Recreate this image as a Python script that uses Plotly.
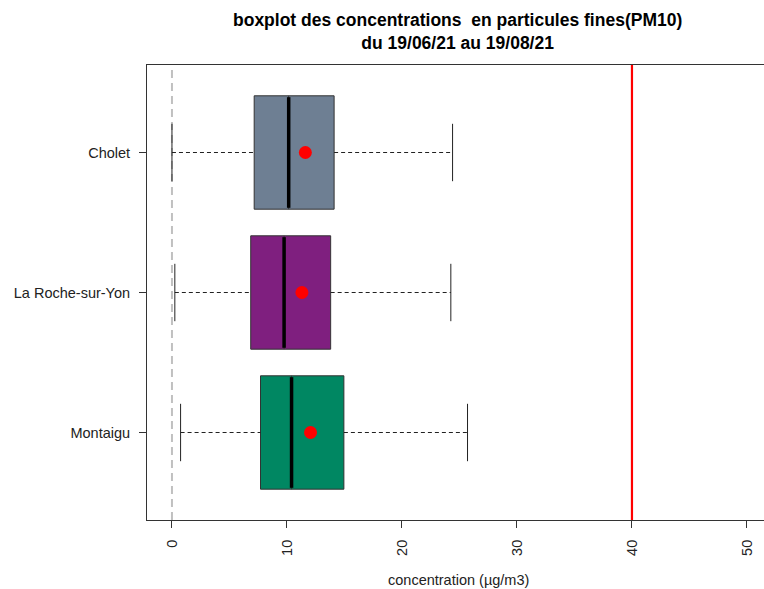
import plotly.graph_objects as go

stations = ["Cholet", "La Roche-sur-Yon", "Montaigu"]
positions = [3, 2, 1]
q1 = [7.15, 6.85, 7.7]
median = [10.15, 9.75, 10.4]
q3 = [14.1, 13.8, 14.95]
lower = [0.0, 0.25, 0.75]
upper = [24.4, 24.25, 25.7]
mean = [11.6, 11.3, 12.05]
colors = ["#6E7F93", "#7F1F7F", "#008762"]
x_ticks = [0, 10, 20, 30, 40, 50]
limit_value = 40

BOXW = 0.81
CAPW = 0.41
FONT = "Liberation Sans, Arial"

fig = go.Figure()

# dashed whiskers
for i in range(3):
    p = positions[i]
    fig.add_trace(go.Scatter(
        x=[lower[i], q1[i], None, q3[i], upper[i]],
        y=[p, p, None, p, p], mode="lines",
        line=dict(color="#222222", width=1, dash="4px,3px"),
        showlegend=False, hoverinfo="skip"))
    fig.add_trace(go.Scatter(
        x=[lower[i], lower[i], None, upper[i], upper[i]],
        y=[p - CAPW / 2, p + CAPW / 2, None, p - CAPW / 2, p + CAPW / 2],
        mode="lines", line=dict(color="#222222", width=1),
        showlegend=False, hoverinfo="skip"))

# boxes
for i in range(3):
    fig.add_trace(go.Box(
        y=[positions[i]], q1=[q1[i]], median=[median[i]], q3=[q3[i]],
        lowerfence=[q1[i]], upperfence=[q3[i]],
        orientation="h", width=BOXW, fillcolor=colors[i],
        line=dict(color="#333333", width=1), whiskerwidth=0,
        showlegend=False, hoverinfo="skip"))

# thick medians
for i in range(3):
    p = positions[i]
    fig.add_trace(go.Scatter(
        x=[median[i], median[i]], y=[p - BOXW / 2 + 0.01, p + BOXW / 2 - 0.01],
        mode="lines", line=dict(color="black", width=3.5),
        showlegend=False, hoverinfo="skip"))

# means
fig.add_trace(go.Scatter(
    x=mean, y=positions, mode="markers",
    marker=dict(color="red", size=13, line=dict(width=0)),
    showlegend=False, hoverinfo="skip"))

# reference lines
fig.add_shape(type="line", xref="x", yref="paper", x0=0, x1=0, y0=0, y1=0.995,
              line=dict(color="#C0C0C0", width=2, dash="8px,5px"), layer="below")
fig.add_shape(type="line", xref="x", yref="paper", x0=limit_value, x1=limit_value,
              y0=0, y1=1, line=dict(color="red", width=2.2))

fig.add_annotation(
    text="<b>boxplot des concentrations  en particules fines(PM10)</b><br><b>du 19/06/21 au 19/08/21</b>",
    xref="paper", yref="paper", x=(457.5 - 147) / 617.0, y=(520 - 31) / 455.0,
    yanchor="middle", showarrow=False,
    font=dict(family=FONT, size=17.5, color="black"))

fig.add_annotation(
    text="concentration (µg/m3)", xref="paper", yref="paper",
    x=(459 - 147) / 617.0, y=-(580 - 520) / 455.0, yanchor="middle",
    showarrow=False, font=dict(family=FONT, size=14.5, color="#222222"))

fig.update_layout(
    width=764, height=589,
    margin=dict(l=147, r=0, t=65, b=69),
    plot_bgcolor="white", paper_bgcolor="white",
    font=dict(family=FONT, size=14.5, color="#222222"),
    xaxis=dict(range=[-2.17, 51.48], tickvals=x_ticks, tickangle=-90,
               showgrid=False, zeroline=False, showline=True, mirror=True,
               linecolor="#333333", linewidth=1, ticks="outside", ticklen=7,
               tickcolor="#333333", tickfont=dict(size=14.5),
               ticklabelstandoff=6),
    yaxis=dict(range=[0.375, 3.625], tickvals=positions, ticktext=stations,
               showgrid=False, zeroline=False, showline=True, mirror=False,
               linecolor="#333333", linewidth=1, ticks="outside", ticklen=7,
               tickcolor="#333333", tickfont=dict(size=14.5),
               ticklabelstandoff=6),
)

fig.write_html("out.html")
